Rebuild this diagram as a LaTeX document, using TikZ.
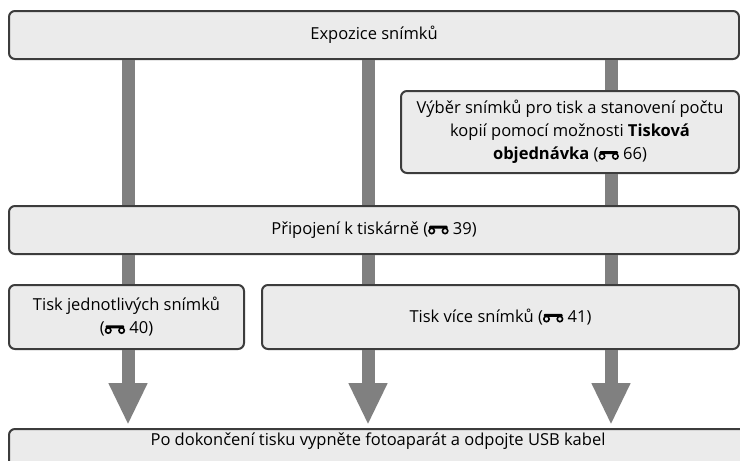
\documentclass[tikz,border=0pt]{standalone}
\usepackage{fontspec}
\setmainfont{Open Sans}
\usetikzlibrary{arrows.meta, calc}
\definecolor{cBOX}{HTML}{EBEBEB}
\definecolor{cEDGE}{HTML}{3C3C3C}
\definecolor{cBAR}{HTML}{808080}
% binocular reference mark
\newcommand{\bino}{\tikz[baseline=0pt, x=1pt, y=1pt, line width=1.6pt]{%
  \draw (3.8,3.4) circle (2.7); \draw (17.2,3.4) circle (2.7);
  \fill[rounded corners=1pt] (1.2,5.6) rectangle (19.8,8.6);}}
\tikzset{
  box/.style={draw=cEDGE, fill=cBOX, line width=2pt, rounded corners=6pt,
    inner sep=0pt, align=center, anchor=north west,
    font=\fontsize{16.5}{23}\selectfont},
  bar/.style={draw=cBAR, line width=13pt},
  flow/.style={bar, -{Triangle[width=36pt, length=42pt]}, shorten >=3pt}
}
\begin{document}
\begin{tikzpicture}[x=1pt, y=-1pt]
  \useasboundingbox[fill=white] (0,0) rectangle (740,461);
  \clip (0,0) rectangle (740,461);

  % column positions
  \coordinate (colA) at (128,0);
  \coordinate (colB) at (368,0);
  \coordinate (colC) at (611,0);

  % boxes
  \node[box, minimum width=730pt, minimum height=48pt] (expo) at (8,10) {Expozice snímků};
  \node[box, minimum width=338pt, minimum height=82pt] (vyber) at (400,90)
    {Výběr snímků pro tisk a stanovení počtu\\ kopií pomocí možnosti \textbf{Tisková}\\ \textbf{objednávka} (\bino\ 66)};
  \node[box, minimum width=730pt, minimum height=48pt] (pripoj) at (8,205) {Připojení k tiskárně (\bino\ 39)};
  \node[box, minimum width=235pt, minimum height=64pt] (jedn) at (8,284) {Tisk jednotlivých snímků\\ (\bino\ 40)};
  \node[box, minimum width=477pt, minimum height=64pt] (vice) at (261,284) {Tisk více snímků (\bino\ 41)};
  \node[box, minimum width=760pt, text height=16pt, text depth=32pt] (final) at (8,428)
    {\hspace*{-22pt}Po dokončení tisku vypněte fotoaparát a odpojte USB kabel};

  % connectors
  \draw[bar] (colA |- expo.south) -- (colA |- pripoj.north);
  \draw[bar] (colB |- expo.south) -- (colB |- pripoj.north);
  \draw[bar] (colC |- expo.south) -- (colC |- vyber.north);
  \draw[bar] (colC |- vyber.south) -- (colC |- pripoj.north);
  \draw[bar] (colA |- pripoj.south) -- (colA |- jedn.north);
  \draw[bar] (colB |- pripoj.south) -- (colB |- vice.north);
  \draw[bar] (colC |- pripoj.south) -- (colC |- vice.north);
  \draw[flow] (colA |- jedn.south) -- (colA |- final.north);
  \draw[flow] (colB |- vice.south) -- (colB |- final.north);
  \draw[flow] (colC |- vice.south) -- (colC |- final.north);
\end{tikzpicture}
\end{document}
